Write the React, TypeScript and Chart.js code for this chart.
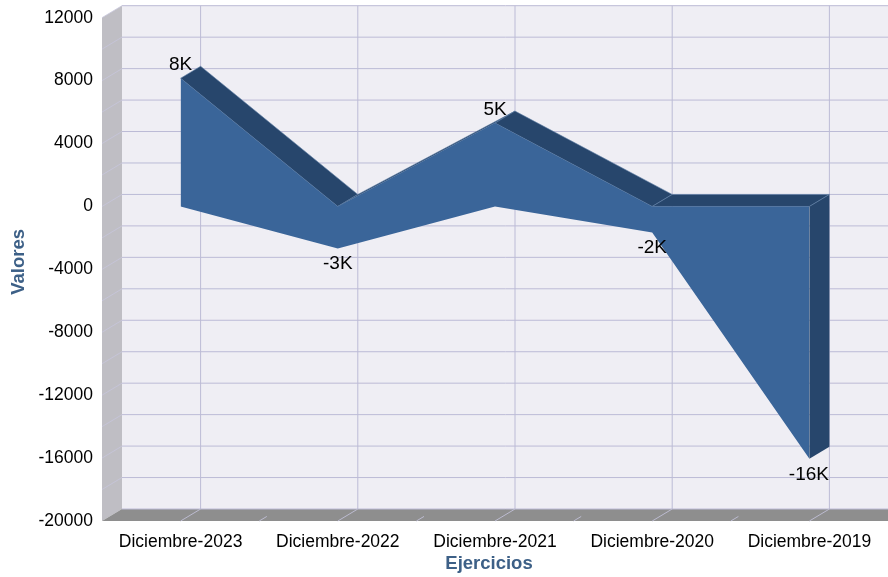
import { useEffect, useRef } from "react";
import { Chart, registerables } from "chart.js";

Chart.register(...registerables);

const categories = ["Diciembre-2023", "Diciembre-2022", "Diciembre-2021", "Diciembre-2020", "Diciembre-2019"];
const positiveValues = [8150, 0, 5300, 0, 0];
const negativeValues = [0, -2680, 0, -1650, -16050];
const pointLabels = ["8K", "-3K", "5K", "-2K", "-16K"];

const FONT = "'Liberation Sans', Arial, sans-serif";
const DX = 20;
const DY = 12;
const WALL = "#efeef4";
const SIDE = "#bfbec4";
const FLOOR = "#8e8e8e";
const GRID = "#bcbbd6";
const FRONT = "#3a6599";
const DARK = "#27466c";
const EDGE = "#5f7fa6";
const TITLE = "#3d6087";

function poly(ctx: CanvasRenderingContext2D, pts: number[][], fill: string, stroke?: string) {
  ctx.beginPath();
  pts.forEach(([x, y], i) => (i ? ctx.lineTo(x, y) : ctx.moveTo(x, y)));
  ctx.closePath();
  ctx.fillStyle = fill;
  ctx.fill();
  if (stroke) {
    ctx.strokeStyle = stroke;
    ctx.lineWidth = 0.6;
    ctx.stroke();
  }
}

function line(ctx: CanvasRenderingContext2D, x1: number, y1: number, x2: number, y2: number, color: string, w = 1) {
  ctx.beginPath();
  ctx.moveTo(x1, y1);
  ctx.lineTo(x2, y2);
  ctx.strokeStyle = color;
  ctx.lineWidth = w;
  ctx.stroke();
}

const depthPlugin = {
  id: "depth",
  beforeDatasetsDraw(chart: any) {
    const { ctx, chartArea: a, scales } = chart;
    const { x, y } = scales;
    ctx.save();
    // Back wall, side wall, floor
    poly(ctx, [[a.left + DX, a.top - DY], [a.right + DX, a.top - DY], [a.right + DX, a.bottom - DY], [a.left + DX, a.bottom - DY]], WALL);
    poly(ctx, [[a.left, a.top], [a.left + DX, a.top - DY], [a.left + DX, a.bottom - DY], [a.left, a.bottom]], SIDE);
    poly(ctx, [[a.left, a.bottom], [a.left + DX, a.bottom - DY], [a.right + DX, a.bottom - DY], [a.right + DX, a.bottom], [a.left, a.bottom]], FLOOR);
    // Horizontal grid on wall, diagonal continuation on the side
    y.ticks.forEach((t: any) => {
      const py = y.getPixelForValue(t.value);
      line(ctx, a.left + DX, py - DY, a.right + DX, py - DY, GRID, 1);
      if (t.value !== y.min) line(ctx, a.left, py, a.left + DX, py - DY, "#c6c5dc", 0.8);
    });
    // Vertical grid on wall, diagonal on floor
    categories.forEach((_, i) => {
      const px = x.getPixelForValue(i);
      line(ctx, px + DX, a.top - DY, px + DX, a.bottom - DY, GRID, 1);
      line(ctx, px, a.bottom, px + DX, a.bottom - DY, "#bcbbd0", 1);
      if (i < categories.length - 1) {
        const mid = (px + x.getPixelForValue(i + 1)) / 2;
        line(ctx, mid, a.bottom, mid + DX * 0.38, a.bottom - DY * 0.38, "#bcbbd0", 1);
      }
    });
    // Top faces of the area
    positiveValues.forEach((v, i) => {
      if (i === positiveValues.length - 1) return;
      const x1 = x.getPixelForValue(i);
      const x2 = x.getPixelForValue(i + 1);
      const y1 = y.getPixelForValue(v);
      const y2 = y.getPixelForValue(positiveValues[i + 1]);
      poly(ctx, [[x1, y1], [x2, y2], [x2 + DX, y2 - DY], [x1 + DX, y1 - DY]], DARK, EDGE);
    });
    // Right-hand end face
    const last = positiveValues.length - 1;
    const ex = x.getPixelForValue(last);
    const eTop = y.getPixelForValue(positiveValues[last]);
    const eBot = y.getPixelForValue(negativeValues[last]);
    poly(ctx, [[ex, eTop], [ex + DX, eTop - DY], [ex + DX, eBot - DY], [ex, eBot]], DARK);
    line(ctx, ex, eTop, ex + DX, eTop - DY, EDGE, 0.6);
    ctx.restore();
  },
  afterDatasetsDraw(chart: any) {
    const { ctx, chartArea: a, scales } = chart;
    const { x, y } = scales;
    ctx.save();
    ctx.fillStyle = "#000";
    ctx.font = `19px ${FONT}`;
    ctx.textAlign = "center";
    ctx.textBaseline = "middle";
    pointLabels.forEach((label, i) => {
      const pos = positiveValues[i] > 0;
      const py = y.getPixelForValue(pos ? positiveValues[i] : negativeValues[i]);
      ctx.fillText(label, x.getPixelForValue(i) - (i === 4 ? 0.5 : 0), py + (pos ? -13 : 15.5));
    });
    ctx.fillStyle = TITLE;
    ctx.font = `bold 18.5px ${FONT}`;
    ctx.fillText("Ejercicios", (a.left + a.right) / 2 - 6, 563.5);
    ctx.translate(19, (a.top + a.bottom) / 2 - 7.5);
    ctx.rotate(-Math.PI / 2);
    ctx.fillText("Valores", 0, 0);
    ctx.restore();
  },
};

export default function App() {
  const ref = useRef<HTMLCanvasElement>(null);

  useEffect(() => {
    if (!ref.current) return;
    const tickFont = { family: FONT, size: 17.5 };
    const chart = new Chart(ref.current, {
      type: "line",
      data: {
        labels: categories,
        datasets: [
          { label: "Positivos", data: positiveValues, fill: 1, backgroundColor: FRONT, borderWidth: 0, pointRadius: 0, tension: 0 },
          { label: "Negativos", data: negativeValues, fill: false, borderWidth: 0, pointRadius: 0, tension: 0 },
        ],
      },
      options: {
        responsive: false,
        animation: false,
        layout: { padding: { top: 17.7, right: 0, left: 0, bottom: 0 } },
        plugins: { legend: { display: false }, tooltip: { enabled: false } },
        scales: {
          x: {
            offset: true,
            grid: { display: false },
            border: { display: false },
            ticks: { color: "#000", font: tickFont, padding: 2.5, maxRotation: 0, autoSkip: false },
            afterFit: (s: any) => { s.height = 56; },
          },
          y: {
            min: -20000,
            max: 12000,
            grid: { display: false },
            border: { display: false },
            ticks: {
              stepSize: 2000,
              autoSkip: false,
              color: "#000",
              font: tickFont,
              padding: 1,
              callback: (v: any) => (Number(v) % 4000 === 0 ? String(v) : ""),
            },
            afterFit: (s: any) => { s.width = 102; },
          },
        },
      },
      plugins: [depthPlugin],
    } as any);
    return () => chart.destroy();
  }, []);

  return (
    <div style={{ position: "absolute", left: 0, top: 0, width: 888, height: 577, background: "#fff" }}>
      <canvas ref={ref} width={888} height={577} style={{ display: "block" }} />
    </div>
  );
}
